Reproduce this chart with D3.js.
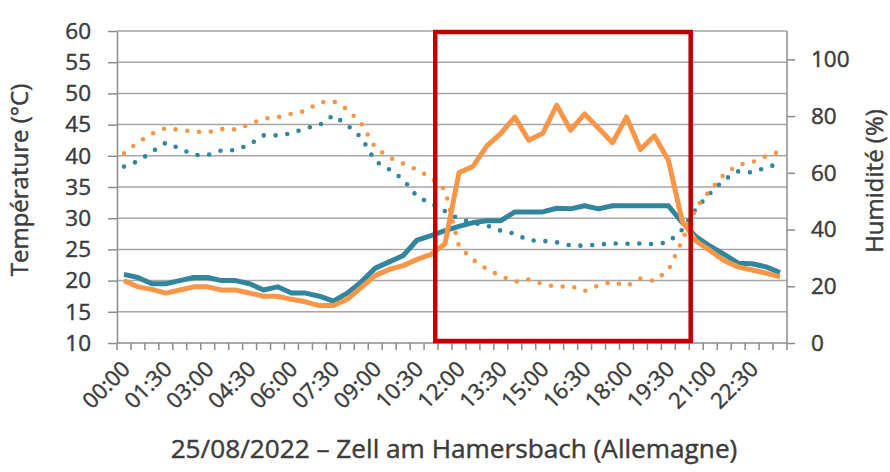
<!DOCTYPE html>
<html lang="fr">
<head>
<meta charset="UTF-8">
<title>Température et humidité</title>
<script src="https://d3js.org/d3.v7.min.js"></script>
<style>
  body { margin: 0; background: #fff; }
  svg text { font-family: "Open Sans", sans-serif; fill: #3c3c3c; stroke: #3c3c3c; stroke-width: 0.45px; }
</style>
</head>
<body>
<svg id="chart" width="890" height="472"></svg>
<script>
// categories : toutes les 30 min
const times = ["00:00","00:30","01:00","01:30","02:00","02:30","03:00","03:30","04:00","04:30","05:00","05:30",
               "06:00","06:30","07:00","07:30","08:00","08:30","09:00","09:30","10:00","10:30","11:00","11:30",
               "12:00","12:30","13:00","13:30","14:00","14:30","15:00","15:30","16:00","16:30","17:00","17:30",
               "18:00","18:30","19:00","19:30","20:00","20:30","21:00","21:30","22:00","22:30","23:00","23:30"];

// température (°C), axe de gauche
const tempTeal = [21.0,20.5,19.5,19.5,20.0,20.5,20.5,20.0,20.0,19.5,18.5,19.0,
                  18.0,18.0,17.5,16.7,18.0,19.8,22.0,23.0,24.0,26.5,27.2,28.0,
                  28.7,29.3,29.6,29.6,31.0,31.0,31.0,31.6,31.5,32.0,31.5,32.0,
                  32.0,32.0,32.0,32.0,29.3,27.0,25.5,24.2,22.8,22.7,22.2,21.3];
const tempOrange = [20.0,19.0,18.6,18.0,18.5,19.0,19.0,18.5,18.5,18.0,17.5,17.5,
                    17.0,16.6,16.0,16.0,17.0,18.9,20.8,21.8,22.4,23.4,24.2,25.9,
                    37.3,38.3,41.6,43.6,46.2,42.5,43.6,48.1,44.1,46.7,44.4,42.1,
                    46.2,41.0,43.2,39.3,29.5,26.3,24.8,23.2,22.2,21.7,21.2,20.6];

// humidité (%), axe de droite
const humTeal = [62.2,64.1,67.4,70.6,68.6,66.3,66.3,67.9,68.0,70.0,73.2,73.2,
                 73.9,75.7,76.8,80.3,76.8,72.5,64.1,61.2,57.7,51.6,49.2,46.5,
                 43.7,42.4,41.4,39.6,38.5,36.2,36.0,35.5,34.4,34.3,34.7,35.1,
                 35.0,35.1,34.8,35.5,40.0,47.5,52.8,57.6,60.5,60.1,61.9,63.3];
const humOrange = [66.9,70.7,73.8,75.8,75.1,74.6,74.3,75.4,75.3,77.1,79.1,79.6,
                   80.8,81.8,84.8,85.3,82.4,77.4,68.9,65.4,63.3,61.1,58.2,54.0,
                   34.0,29.4,26.0,23.6,21.6,22.4,20.8,19.8,20.1,18.3,20.3,21.6,
                   20.1,22.7,21.9,25.7,36.2,47.8,54.0,59.5,62.8,63.7,65.9,67.5];

const tempTicks = [10,15,20,25,30,35,40,45,50,55,60];
const humTicks = [0,20,40,60,80,100];
// cadre rouge (en position de catégorie)
const highlight = [22.3, 40.6];

const W = 890, H = 472;
const m = {l: 117, r: 103, t: 31, b: 129};
const teal = "#31859c", orange = "#f79646", grid = "#a6a6a6", axisCol = "#8c8c8c";

const svg = d3.select("#chart");

const x = d3.scalePoint().domain(times).range([m.l, W - m.r]).padding(0.5);
const xi = d3.scaleLinear().domain([-0.5, times.length - 0.5]).range([m.l, W - m.r]);
const yT = d3.scaleLinear().domain([10, 60]).range([H - m.b, m.t]);
const yH = d3.scaleLinear().domain([0, 110]).range([H - m.b, m.t]);

// grille
svg.append("g").selectAll("line").data(tempTicks.slice(1)).join("line")
    .attr("x1", m.l).attr("x2", W - m.r)
    .attr("y1", d => yT(d)).attr("y2", d => yT(d))
    .attr("stroke", grid).attr("stroke-width", 1.5);

// axe gauche
const gL = svg.append("g").attr("transform", `translate(${m.l},0)`)
    .call(d3.axisLeft(yT).tickValues(tempTicks).tickSizeInner(9).tickSizeOuter(0).tickPadding(17));
// axe droit
const gR = svg.append("g").attr("transform", `translate(${W - m.r},0)`)
    .call(d3.axisRight(yH).tickValues(humTicks).tickSizeInner(8).tickSizeOuter(0).tickPadding(16));
[gL, gR].forEach(g => {
    g.select(".domain").attr("stroke", axisCol).attr("stroke-width", 1.5);
    g.selectAll(".tick line").attr("stroke", axisCol).attr("stroke-width", 1.5);
    g.selectAll(".tick text").attr("font-size", 22.5).attr("font-family", null);
});
gR.select(".domain").attr("d", `M0,${yH(0)}V${yH(110)}`);

// axe des x
const gX = svg.append("g");
gX.append("line").attr("x1", m.l).attr("x2", W - m.r)
    .attr("y1", H - m.b).attr("y2", H - m.b)
    .attr("stroke", axisCol).attr("stroke-width", 1.5);
gX.selectAll("line.tk").data(d3.range(times.length + 1)).join("line")
    .attr("class", "tk")
    .attr("x1", d => xi(d - 0.5)).attr("x2", d => xi(d - 0.5))
    .attr("y1", H - m.b).attr("y2", H - m.b + 7)
    .attr("stroke", axisCol).attr("stroke-width", 1.5);
gX.selectAll("text").data(times.filter((d, i) => i % 3 === 0)).join("text")
    .attr("transform", d => `translate(${x(d) + 2},${H - m.b + 22}) rotate(-45)`)
    .attr("text-anchor", "end")
    .attr("dy", "0.35em")
    .attr("font-size", 22)
    .text(d => d);

// courbes
const lineT = d3.line().x((d, i) => x(times[i])).y(d => yT(d));
const lineH = d3.line().x((d, i) => x(times[i])).y(d => yH(d));

[[tempTeal, teal], [tempOrange, orange]].forEach(([s, c]) => {
    svg.append("path").attr("d", lineT(s))
        .attr("fill", "none").attr("stroke", c).attr("stroke-width", 5)
        .attr("stroke-linejoin", "round");
});
[[humTeal, teal], [humOrange, orange]].forEach(([s, c]) => {
    svg.append("path").attr("d", lineH(s))
        .attr("fill", "none").attr("stroke", c).attr("stroke-width", 4.6)
        .attr("stroke-linecap", "round").attr("stroke-dasharray", "0 11.8");
});

// cadre rouge
svg.append("rect")
    .attr("x", xi(highlight[0])).attr("y", m.t + 1)
    .attr("width", xi(highlight[1]) - xi(highlight[0]))
    .attr("height", yT(10) - yT(60) - 3)
    .attr("fill", "none").attr("stroke", "#c00000").attr("stroke-width", 4.5);

// titres
svg.append("text")
    .attr("transform", `translate(28,${(m.t + H - m.b) / 2 - 7}) rotate(-90)`)
    .attr("text-anchor", "middle").attr("font-size", 24)
    .text("Température (°C)");
svg.append("text")
    .attr("transform", `translate(883,${(m.t + H - m.b) / 2 - 6}) rotate(-90)`)
    .attr("text-anchor", "middle").attr("font-size", 24)
    .text("Humidité (%)");
svg.append("text")
    .attr("x", (m.l + W - m.r) / 2 + 2).attr("y", 458)
    .attr("text-anchor", "middle").attr("font-size", 26.2)
    .text("25/08/2022 – Zell am Hamersbach (Allemagne)");
</script>
</body>
</html>
